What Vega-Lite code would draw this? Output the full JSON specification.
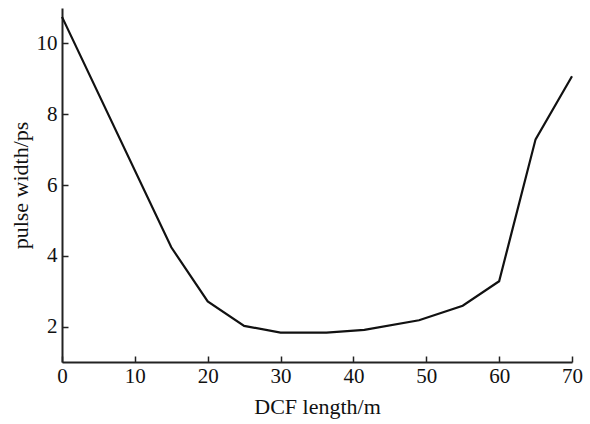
{
  "$schema": "https://vega.github.io/schema/vega-lite/v6.json",
  "width": 510,
  "height": 354,
  "autosize": {"type": "none"},
  "padding": {"left": 62, "top": 8, "right": 18, "bottom": 62},
  "config": {
    "view": {"stroke": null},
    "font": "Liberation Serif",
    "axis": {
      "grid": false,
      "domainColor": "#222",
      "domainWidth": 2,
      "tickColor": "#222",
      "tickWidth": 1.5,
      "tickSize": -6,
      "labelColor": "#111",
      "titleColor": "#111",
      "labelFont": "Liberation Serif",
      "titleFont": "Liberation Serif",
      "labelFontSize": 21,
      "titleFontSize": 22,
      "titleFontWeight": "normal"
    }
  },
  "data": {
    "values": [
      {"x": 0, "y": 10.75},
      {"x": 15, "y": 4.24},
      {"x": 20, "y": 2.71},
      {"x": 25, "y": 2.02},
      {"x": 30, "y": 1.83},
      {"x": 36.3, "y": 1.83},
      {"x": 41.5, "y": 1.91},
      {"x": 49, "y": 2.18},
      {"x": 55, "y": 2.59},
      {"x": 60, "y": 3.28},
      {"x": 65, "y": 7.29},
      {"x": 70, "y": 9.07}
    ]
  },
  "mark": {"type": "line", "color": "#111", "strokeWidth": 2.2},
  "encoding": {
    "x": {
      "field": "x", "type": "quantitative",
      "scale": {"domain": [0, 70], "nice": false, "zero": false},
      "axis": {"values": [0, 10, 20, 30, 40, 50, 60, 70], "title": "DCF length/m", "labelPadding": 9, "titlePadding": 10, "labelFlush": false}
    },
    "y": {
      "field": "y", "type": "quantitative",
      "scale": {"domain": [1, 11], "nice": false, "zero": false},
      "axis": {"values": [2, 4, 6, 8, 10], "title": "pulse width/ps", "labelPadding": 11, "titlePadding": 4, "labelFlush": false}
    }
  }
}
